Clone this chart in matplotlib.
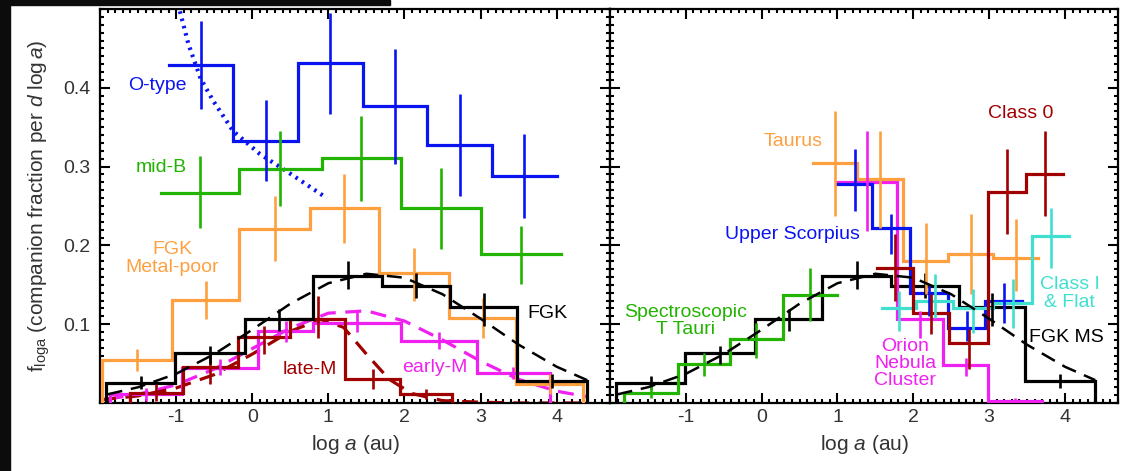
import matplotlib
matplotlib.use("Agg")
import matplotlib.pyplot as plt
from matplotlib.patches import Rectangle
from matplotlib.ticker import MultipleLocator, FixedLocator, FuncFormatter

plt.rcParams['font.family'] = ['Liberation Sans', 'DejaVu Sans']
plt.rcParams['mathtext.fontset'] = 'custom'
plt.rcParams['mathtext.rm'] = 'Liberation Sans'
plt.rcParams['mathtext.it'] = 'Liberation Sans:italic'
plt.rcParams['axes.unicode_minus'] = False

# ---------------- data: left panel ----------------
otype_edges = [-1.10, -0.25, 0.60, 1.45, 2.30, 3.15, 4.00]
otype_vals = [0.429, 0.332, 0.431, 0.377, 0.327, 0.288]
otype_lo = [0.373, 0.282, 0.367, 0.303, 0.263, 0.235]
otype_hi = [0.485, 0.385, 0.495, 0.449, 0.392, 0.341]
otype_curve_x = [-0.95, -0.84, -0.68, -0.51, -0.25, 0.10, 0.50, 0.98]
otype_curve_y = [0.497, 0.456, 0.412, 0.383, 0.345, 0.316, 0.291, 0.260]

midb_edges = [-1.20, -0.17, 0.91, 1.95, 3.00, 4.05]
midb_vals = [0.266, 0.297, 0.311, 0.247, 0.189]
midb_lo = [0.222, 0.250, 0.256, 0.195, 0.151]
midb_hi = [0.313, 0.345, 0.364, 0.298, 0.225]

mp_edges = [-1.97, -1.05, -0.17, 0.76, 1.66, 2.58, 3.47, 4.35]
mp_vals = [0.055, 0.131, 0.221, 0.247, 0.165, 0.108, 0.024]
mp_lo = [0.041, 0.107, 0.180, 0.203, 0.129, 0.082, 0.011]
mp_hi = [0.068, 0.155, 0.263, 0.291, 0.197, 0.133, 0.037]

fgk_edges = [-1.92, -1.01, -0.09, 0.80, 1.71, 2.60, 3.48, 4.40]
fgk_vals = [0.025, 0.063, 0.107, 0.161, 0.148, 0.122, 0.028]
fgk_lo = [0.018, 0.049, 0.091, 0.145, 0.133, 0.098, 0.019]
fgk_hi = [0.034, 0.072, 0.119, 0.180, 0.165, 0.140, 0.037]
fgk_fit_x = [-1.9, -1.5, -1.0, -0.5, 0.0, 0.5, 1.0, 1.5, 2.0, 2.5, 3.0, 3.5, 4.0, 4.4]
fgk_fit_y = [0.011, 0.020, 0.037, 0.062, 0.093, 0.126, 0.152, 0.164, 0.159, 0.138,
             0.107, 0.074, 0.046, 0.029]

latem_edges = [-1.61, -0.91, -0.19, 0.50, 1.22, 1.94, 2.62]
latem_vals = [0.013, 0.046, 0.084, 0.107, 0.030, 0.011]
latem_lo = [0.003, 0.024, 0.062, 0.083, 0.018, 0.005]
latem_hi = [0.024, 0.062, 0.098, 0.136, 0.043, 0.018]
latem_fit_x = [-2.0, -1.5, -1.0, -0.5, 0.0, 0.5, 0.9, 1.2, 1.5, 1.8, 2.1, 2.5, 3.0, 3.5, 4.0, 4.4]
latem_fit_y = [0.004, 0.009, 0.019, 0.036, 0.062, 0.091, 0.106, 0.096, 0.062, 0.030,
               0.012, 0.003, 0.001, 0.0, 0.0, 0.0]

earlym_edges = [-1.87, -0.92, 0.08, 0.80, 1.96, 2.95, 3.91]
earlym_vals = [0.011, 0.045, 0.091, 0.102, 0.079, 0.038]
earlym_lo = [0.003, 0.035, 0.078, 0.090, 0.068, 0.030]
earlym_hi = [0.019, 0.056, 0.104, 0.115, 0.090, 0.046]
earlym_fit_x = [-1.9, -1.5, -1.0, -0.5, 0.0, 0.5, 1.0, 1.5, 2.0, 2.5, 3.0, 3.5, 4.0, 4.4]
earlym_fit_y = [0.005, 0.011, 0.023, 0.043, 0.069, 0.095, 0.114, 0.117, 0.104, 0.080,
                0.053, 0.030, 0.015, 0.008]

# ---------------- data: right panel ----------------
tt_edges = [-1.81, -1.10, -0.42, 0.28, 1.00]
tt_vals = [0.013, 0.050, 0.081, 0.137]
tt_lo = [0.006, 0.034, 0.057, 0.104]
tt_hi = [0.022, 0.063, 0.102, 0.171]

taurus_edges = [0.68, 1.26, 1.87, 2.46, 3.05, 3.65]
taurus_vals = [0.305, 0.284, 0.180, 0.189, 0.184]
taurus_lo = [0.237, 0.222, 0.138, 0.138, 0.142]
taurus_hi = [0.371, 0.345, 0.228, 0.240, 0.233]

usco_edges = [1.00, 1.46, 1.96, 2.46, 2.95, 3.44]
usco_vals = [0.278, 0.222, 0.140, 0.095, 0.129]
usco_lo = [0.244, 0.189, 0.110, 0.079, 0.102]
usco_hi = [0.322, 0.240, 0.151, 0.117, 0.152]

onc_edges = [1.00, 1.79, 2.39, 2.99, 3.70]
onc_vals = [0.280, 0.107, 0.048, 0.003]
onc_lo = [0.218, 0.083, 0.034, 0.000]
onc_hi = [0.345, 0.117, 0.057, 0.006]

class0_edges = [1.52, 2.00, 2.47, 2.99, 3.49, 3.98]
class0_vals = [0.171, 0.114, 0.076, 0.268, 0.291]
class0_lo = [0.129, 0.088, 0.043, 0.214, 0.237]
class0_hi = [0.214, 0.138, 0.094, 0.322, 0.345]

class1_edges = [1.59, 2.03, 2.53, 3.05, 3.57, 4.05]
class1_vals = [0.120, 0.130, 0.120, 0.127, 0.212]
class1_lo = [0.091, 0.108, 0.089, 0.095, 0.171]
class1_hi = [0.142, 0.164, 0.145, 0.157, 0.248]

# ---------------- colours ----------------
BLUE = '#0a14f0'
GREEN = '#22b400'
ORANGE = '#ffa040'
DRED = '#a00000'
MAG = '#f020f0'
TURQ = '#40e0d0'
BLACK = '#000000'
TXT = '#333333'

LW = 2.3
ELW = 1.9


def step(ax, edges, vals, color, start0=False, end0=False, lw=LW):
    xs, ys = [], []
    if start0:
        xs.append(edges[0]); ys.append(0.0)
    for i, v in enumerate(vals):
        xs += [edges[i], edges[i + 1]]
        ys += [v, v]
    if end0:
        xs.append(edges[-1]); ys.append(0.0)
    ax.plot(xs, ys, color=color, lw=lw, solid_joinstyle='miter', zorder=3)


def errs(ax, edges, lo, hi, color, lw=ELW):
    cen = [(edges[i] + edges[i + 1]) / 2 for i in range(len(lo))]
    ax.vlines(cen, lo, hi, color=color, lw=lw, zorder=4)


fig = plt.figure(figsize=(11.26, 4.71), dpi=100)
fig.patches.append(Rectangle((0, 0), 10 / 1126, 1, transform=fig.transFigure,
                             color='#0c0c0c', zorder=0))
fig.patches.append(Rectangle((0, 1 - 5 / 471), 390 / 1126, 5 / 471, transform=fig.transFigure,
                             color='#0c0c0c', zorder=0))

axL = fig.add_axes([100 / 1126, 68 / 471, 510 / 1126, 394 / 471])
axR = fig.add_axes([610 / 1126, 68 / 471, 508 / 1126, 394 / 471])

for ax in (axL, axR):
    ax.set_xlim(-2, 4.7)
    ax.set_ylim(0, 0.5)
    ax.xaxis.set_major_locator(FixedLocator([-1, 0, 1, 2, 3, 4]))
    ax.xaxis.set_minor_locator(MultipleLocator(0.1))
    ax.yaxis.set_major_locator(FixedLocator([0.1, 0.2, 0.3, 0.4]))
    ax.yaxis.set_minor_locator(MultipleLocator(0.01))
    ax.tick_params(which='both', direction='in', top=True, right=True, width=1.5,
                   color='black', labelcolor=TXT, labelsize=14)
    ax.tick_params(which='major', length=7)
    ax.tick_params(which='minor', length=3)
    ax.tick_params(axis='x', which='major', pad=4)
    ax.tick_params(axis='y', which='major', pad=7)
    for s in ax.spines.values():
        s.set_linewidth(1.6)
    ax.set_xlabel(r'log $\mathit{a}$ (au)', fontsize=15, color=TXT, labelpad=5)
axR.tick_params(labelleft=False)
axL.yaxis.set_major_formatter(FuncFormatter(lambda v, p: f'{v:.1f}'))
axL.set_ylabel(r'f$_{\rm loga}$ (companion fraction per $\mathit{d}$ log$\,\mathit{a}$)',
               fontsize=15, color=TXT, labelpad=8)

# ---- left panel ----
axL.plot(otype_curve_x, otype_curve_y, color=BLUE, lw=3, ls=(0, (0.6, 1.2)), zorder=2)
step(axL, otype_edges, otype_vals, BLUE)
errs(axL, otype_edges, otype_lo, otype_hi, BLUE)

step(axL, midb_edges, midb_vals, GREEN)
errs(axL, midb_edges, midb_lo, midb_hi, GREEN)

step(axL, mp_edges, mp_vals, ORANGE, True, True)
errs(axL, mp_edges, mp_lo, mp_hi, ORANGE)

axL.plot(earlym_fit_x, earlym_fit_y, color=MAG, lw=LW, ls=(0, (5, 3)), zorder=2)
step(axL, earlym_edges, earlym_vals, MAG, True, True)
errs(axL, earlym_edges, earlym_lo, earlym_hi, MAG)

axL.plot(latem_fit_x, latem_fit_y, color=DRED, lw=LW, ls=(0, (5, 3)), zorder=2)
step(axL, latem_edges, latem_vals, DRED, True, True)
errs(axL, latem_edges, latem_lo, latem_hi, DRED)

axL.plot(fgk_fit_x, fgk_fit_y, color=BLACK, lw=1.8, ls=(0, (6, 3.5)), zorder=5)
step(axL, fgk_edges, fgk_vals, BLACK, True, True)
errs(axL, fgk_edges, fgk_lo, fgk_hi, BLACK)

fs = 14
axL.text(-1.25, 0.403, 'O-type', color=BLUE, fontsize=fs, ha='center', va='center')
axL.text(-1.20, 0.299, 'mid-B', color=GREEN, fontsize=fs, ha='center', va='center')
axL.text(-1.05, 0.183, 'FGK\nMetal-poor', color=ORANGE, fontsize=fs, ha='center', va='center',
         linespacing=1.05)
axL.text(3.88, 0.114, 'FGK', color=BLACK, fontsize=fs, ha='center', va='center')
axL.text(0.75, 0.043, 'late-M', color=DRED, fontsize=fs, ha='center', va='center')
axL.text(2.40, 0.045, 'early-M', color=MAG, fontsize=fs, ha='center', va='center')

# ---- right panel ----
axR.plot(fgk_fit_x, fgk_fit_y, color=BLACK, lw=1.8, ls=(0, (6, 3.5)), zorder=5)
step(axR, fgk_edges, fgk_vals, BLACK, True, True)
errs(axR, fgk_edges, fgk_lo, fgk_hi, BLACK)

step(axR, tt_edges, tt_vals, GREEN, True, False)
errs(axR, tt_edges, tt_lo, tt_hi, GREEN)

step(axR, onc_edges, onc_vals, MAG)
errs(axR, onc_edges, onc_lo, onc_hi, MAG)

step(axR, taurus_edges, taurus_vals, ORANGE)
errs(axR, taurus_edges, taurus_lo, taurus_hi, ORANGE)

step(axR, usco_edges, usco_vals, BLUE)
errs(axR, usco_edges, usco_lo, usco_hi, BLUE)

step(axR, class1_edges, class1_vals, TURQ)
errs(axR, class1_edges, class1_lo, class1_hi, TURQ)

step(axR, class0_edges, class0_vals, DRED)
errs(axR, class0_edges, class0_lo, class0_hi, DRED)

axR.text(0.41, 0.332, 'Taurus', color=ORANGE, fontsize=fs, ha='center', va='center')
axR.text(3.41, 0.367, 'Class 0', color=DRED, fontsize=fs, ha='center', va='center')
axR.text(0.40, 0.214, 'Upper Scorpius', color=BLUE, fontsize=fs, ha='center', va='center')
axR.text(-1.00, 0.104, 'Spectroscopic\nT Tauri', color=GREEN, fontsize=fs, ha='center',
         va='center', linespacing=1.05)
axR.text(4.06, 0.139, 'Class I\n& Flat', color=TURQ, fontsize=fs, ha='center', va='center',
         linespacing=1.05)
axR.text(4.02, 0.083, 'FGK MS', color=BLACK, fontsize=fs, ha='center', va='center')
axR.text(1.89, 0.050, 'Orion\nNebula\nCluster', color=MAG, fontsize=fs, ha='center',
         va='center', linespacing=1.0)

fig.savefig('out.png', dpi=100, facecolor='white')
